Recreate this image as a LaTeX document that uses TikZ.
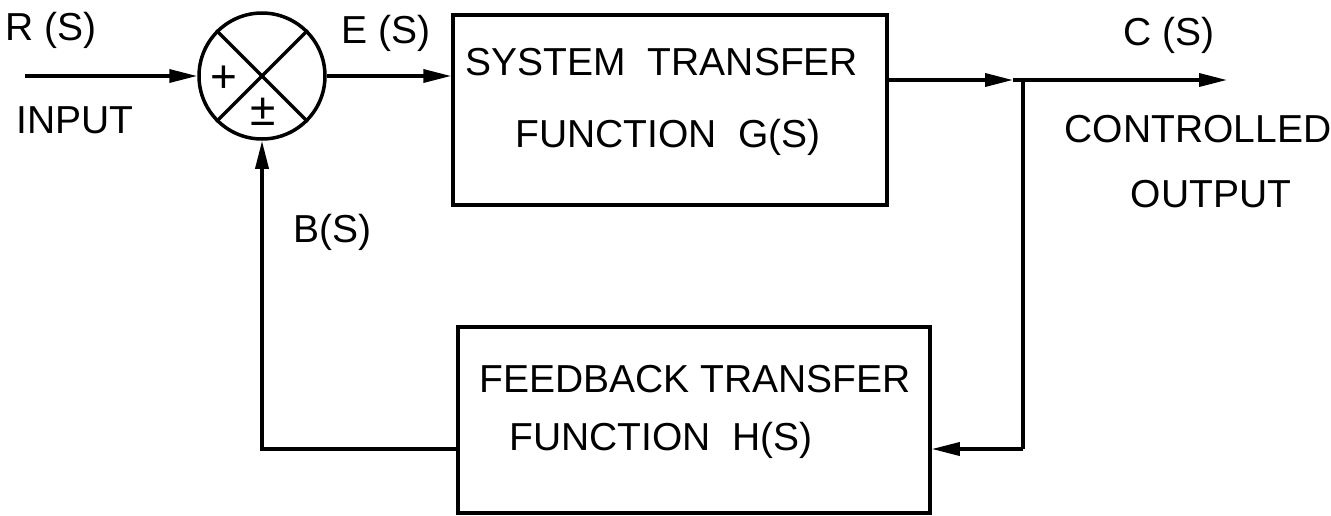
\documentclass[tikz,border=0pt]{standalone}
\usepackage{fontspec}
\setmainfont{Liberation Sans}
\usetikzlibrary{arrows.meta}

\tikzset{
  blk/.style={draw, line width=3.5pt, inner sep=0pt},
  lbl/.style={anchor=base, inner sep=0pt, font=\fontsize{39}{44}\selectfont},
  sgn/.style={anchor=base, inner sep=0pt, font=\fontsize{46}{50}\selectfont},
  sig/.style={line width=3.5pt, -{Triangle[length=28pt,width=13pt]}}
}

\begin{document}
\begin{tikzpicture}[x=1pt, y=-1pt, line width=3.5pt]
  \useasboundingbox (0,0) rectangle (1331,515);

  % Summing point
  \node[blk, circle, minimum size=126pt] (sum) at (262,76) {};
  \draw (sum.north west) -- (sum.south east);
  \draw (sum.north east) -- (sum.south west);
  \node[sgn] (plus) at (224,92) {+};
  \node[sgn] (pm) at (263,125) {±};

  % Forward path
  \node[blk, minimum width=434pt, minimum height=190pt] (sys) at (670,110) {};
  \node[lbl] (sys1) at (662,75) {SYSTEM\ \ TRANSFER};
  \node[lbl] (sys2) at (668,147) {FUNCTION\ \ G(S)};

  % Feedback path
  \node[blk, minimum width=472pt, minimum height=186pt] (fb) at (694,420) {};
  \node[lbl] (fb1) at (695,392) {FEEDBACK TRANSFER};
  \node[lbl] (fb2) at (661,450) {FUNCTION\ \ H(S)};

  \coordinate (in) at (25,76);
  \coordinate (mid) at (1013,80);
  \coordinate (jn) at (1023,80);
  \coordinate (out) at (1227,80);
  \coordinate (fbr) at (1023,449);

  \draw[sig] (in) -- (sum.west);
  \draw[sig] (sum.east) -- (sys.west |- sum.east);
  \draw[sig] (sys.east |- mid) -- (mid);
  \draw (mid) -- (jn);
  \draw[sig] (jn) -- (out);
  \draw (jn) -- (fbr);
  \draw[sig] (fbr) -- (fb.east |- fbr);
  \draw[sig] (fb.west |- fbr) -| (sum.south);

  % Signal names
  \node[lbl] (rs) at (51,40) {R (S)};
  \node[lbl] (inp) at (75,133) {INPUT};
  \node[lbl] (es) at (386,43) {E (S)};
  \node[lbl] (bs) at (332,242) {B(S)};
  \node[lbl] (cs) at (1169,45) {C (S)};
  \node[lbl] (ctl) at (1198,142) {CONTROLLED};
  \node[lbl] (outp) at (1211,207) {OUTPUT};
\end{tikzpicture}
\end{document}
